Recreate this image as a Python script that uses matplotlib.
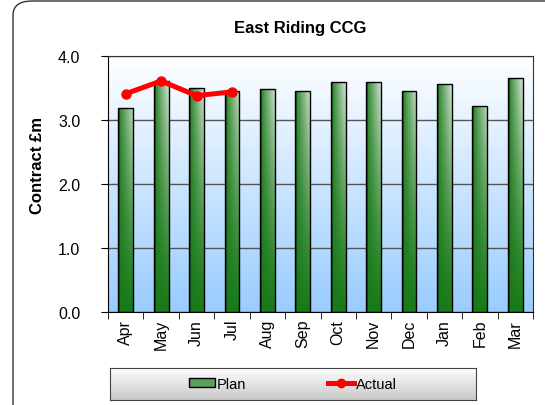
import numpy as np
import matplotlib.pyplot as plt
from matplotlib.patches import FancyBboxPatch, Patch
from matplotlib.lines import Line2D
from matplotlib.colors import LinearSegmentedColormap

plt.rcParams['font.family'] = ['Liberation Sans', 'DejaVu Sans']

# data (£m)
months = ["Apr", "May", "Jun", "Jul", "Aug", "Sep", "Oct", "Nov", "Dec", "Jan", "Feb", "Mar"]
plan = [3.19, 3.61, 3.50, 3.46, 3.49, 3.45, 3.59, 3.60, 3.45, 3.57, 3.22, 3.66]
actual = [3.41, 3.61, 3.38, 3.44]
yticks = [0, 1, 2, 3, 4]

fig = plt.figure(figsize=(5.45, 4.06), dpi=100)

# rounded outer border (runs off the right/bottom edge like the original)
border = FancyBboxPatch((13 / 545, -0.05), 1.05, 1.05 - 2 / 406,
                        boxstyle="round,pad=0,rounding_size=0.035",
                        transform=fig.transFigure, facecolor="white",
                        edgecolor="#333333", linewidth=1.0, zorder=-5)
fig.patches.append(border)

ax = fig.add_axes([108 / 545, 93 / 406, 425 / 545, 256 / 406])
ax.set_zorder(1)

# plot area background: white at top -> light blue at bottom
bg = LinearSegmentedColormap.from_list("bg", ["#99ccff", "#ffffff"])
ax.imshow(np.linspace(0, 1, 256).reshape(-1, 1), cmap=bg, origin="lower",
          aspect="auto", extent=[0, 1, 0, 1], transform=ax.transAxes, zorder=0)

x = np.arange(len(months))
ymax = yticks[-1]

ax.yaxis.grid(True, color="#555555", linewidth=1.0, zorder=1)
ax.set_axisbelow(True)

# bar fill: dark green on the left fading to near-white on the right,
# the fade getting stronger towards the top of the plot
u = np.linspace(0, 1, 48)[None, :]
v = np.linspace(0, 1, 200)[:, None]
L = (u ** 0.9) * (v ** 1.3)
dark = np.array([0.10, 0.48, 0.10])
light = np.array([0.93, 0.95, 0.93])
fill = dark * (1 - L[..., None]) + light * L[..., None]
fill[:, :6] = fill[:, :6] * 0.65  # darker left edge

bars = ax.bar(x, plan, width=0.42, facecolor="none", edgecolor="black",
              linewidth=1.0, zorder=3)
for b in bars:
    x0, w = b.get_x(), b.get_width()
    im = ax.imshow(fill, origin="lower", aspect="auto",
                   extent=[x0, x0 + w, 0, ymax], zorder=2.5)
    im.set_clip_path(b)

ax.plot(x[:len(actual)], actual, color="#ff0000", linewidth=3.6, marker="o",
        markersize=6.5, zorder=4)

ax.set_xlim(-0.5, len(months) - 0.5)
ax.set_ylim(0, ymax)
ax.set_xticks(x)
ax.set_xticklabels(months, rotation=90, fontsize=11.5)
ax.set_xticks(np.arange(-0.5, len(months)), minor=True)
ax.tick_params(axis="x", which="major", length=0, pad=5)
ax.tick_params(axis="x", which="minor", length=5, direction="out", color="black")
ax.set_yticks(yticks)
ax.set_yticklabels([f"{v:.1f}" for v in yticks], fontsize=11.5)
ax.tick_params(axis="y", length=5, direction="out", pad=15)
for s in ax.spines.values():
    s.set_color("#333333")
ax.spines["left"].set_color("black")
ax.spines["bottom"].set_color("black")

ax.set_ylabel("Contract £m", fontsize=12, fontweight="bold")
ax.yaxis.set_label_coords(-63 / 425, (313 - 166) / 256)
fig.text(300 / 545, 1 - 29 / 406, "East Riding CCG", ha="center", va="center",
         fontsize=12, fontweight="bold")

# legend box with a gray gradient
lax = fig.add_axes([110 / 545, 5 / 406, 366 / 545, 32 / 406])
lax.set_zorder(1)
gray = LinearSegmentedColormap.from_list("gr", ["#c8c8c8", "#ffffff"])
lax.imshow(np.linspace(0, 1, 64).reshape(-1, 1), cmap=gray, origin="lower",
           aspect="auto", extent=[0, 1, 0, 1])
lax.set_xticks([])
lax.set_yticks([])
for s in lax.spines.values():
    s.set_color("#444444")
handles = [Patch(facecolor="#5a9e5a", edgecolor="black", label="Plan"),
           Line2D([], [], color="#ff0000", linewidth=3.6, marker="o",
                  markersize=6, label="Actual")]
lax.legend(handles=handles, loc="center", ncol=2, frameon=False, fontsize=10.5,
           handlelength=1.8, handleheight=0.6, handletextpad=0.15,
           columnspacing=5.6)

plt.savefig("out.png", dpi=100)
